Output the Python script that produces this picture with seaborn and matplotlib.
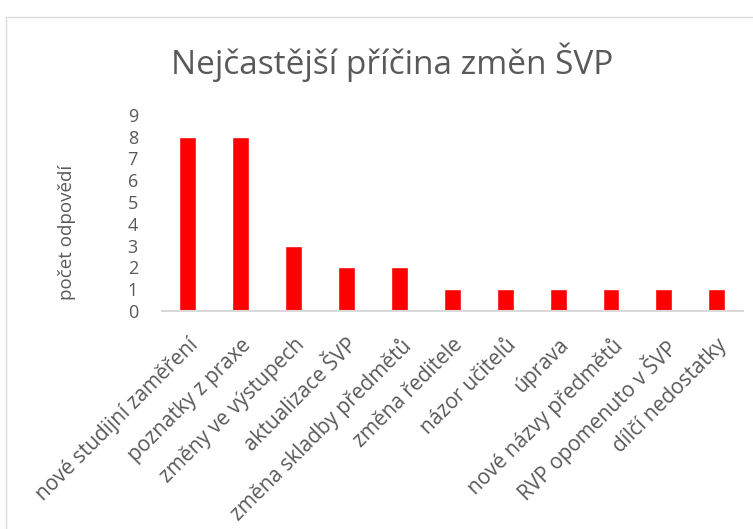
import matplotlib
matplotlib.use("Agg")
import matplotlib.pyplot as plt
import seaborn as sns
import pandas as pd
from matplotlib.patches import Rectangle

categories = ["nové studijní zaměření", "poznatky z praxe", "změny ve výstupech",
              "aktualizace ŠVP", "změna skladby předmětů", "změna ředitele",
              "názor učitelů", "úprava", "nové názvy předmětů",
              "RVP opomenuto v ŠVP", "dílčí nedostatky"]
counts = [8, 8, 3, 2, 2, 1, 1, 1, 1, 1, 1]

df = pd.DataFrame({"pricina": categories, "pocet": counts})

sns.set_theme(style="white")
plt.rcParams['font.family'] = ['Open Sans', 'DejaVu Sans']

fig = plt.figure(figsize=(7.53, 5.29), dpi=100)
ax = fig.add_axes([0.2145, 0.412, 0.7725, 0.371])

sns.barplot(data=df, x="pricina", y="pocet", color="#ff0000", width=0.32,
            saturation=1, ax=ax)

ax.set_ylim(0, 9)
ax.set_xlim(-0.5, len(categories) - 0.5)
ax.set_yticks(range(0, 10))
ax.tick_params(axis='y', length=0, labelsize=13, labelcolor="#595959", pad=17)
ax.tick_params(axis='x', length=0, labelsize=15, labelcolor="#595959", pad=17)
ax.set_xticks(range(len(categories)))
ax.set_xticklabels(categories, rotation=45, ha='right', rotation_mode='anchor')
ax.set_xlabel("")
ax.set_ylabel("počet odpovědí", fontsize=13.5, color="#595959")
ax.yaxis.set_label_coords(-0.147, 0.40)
for s in ["top", "right", "left"]:
    ax.spines[s].set_visible(False)
ax.spines["bottom"].set_color("#d9d9d9")
ax.spines["bottom"].set_linewidth(1.5)

fig.text(0.521, 0.883, "Nejčastější příčina změn ŠVP", ha='center', va='center',
         fontsize=24, color="#595959")

fig.patches.append(Rectangle((6 / 753, -0.05), 1.1, 1 - 17 / 529 + 0.05,
                             transform=fig.transFigure, fill=False,
                             edgecolor="#d9d9d9", linewidth=1))

fig.savefig("out.png", dpi=100)
